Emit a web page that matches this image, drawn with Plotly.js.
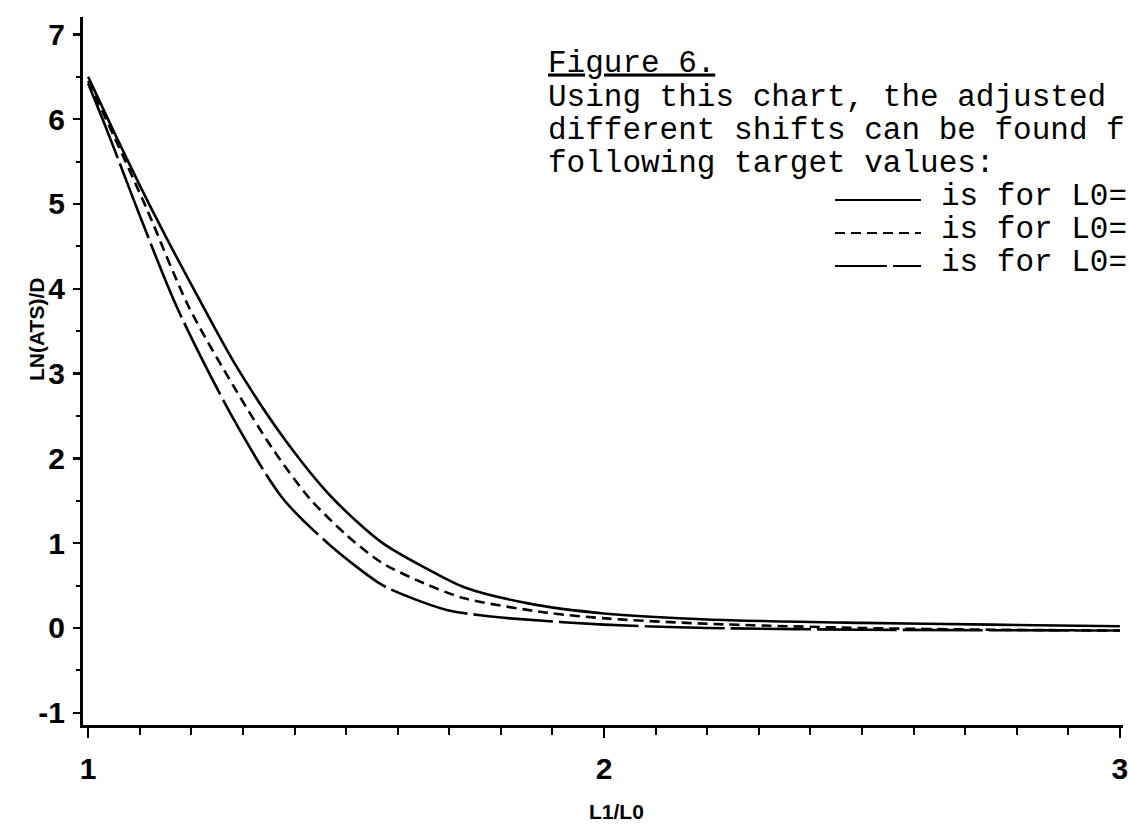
<!DOCTYPE html>
<html>
<head>
<meta charset="utf-8">
<script src="https://cdn.plot.ly/plotly-3.0.1.min.js"></script>
<style>html,body{margin:0;padding:0;background:#fff;}#chart{width:1129px;height:839px;}</style>
</head>
<body>
<div id="chart"></div>
<script>
// Data
const xSolid = [1.0, 1.05, 1.1, 1.15, 1.2, 1.283, 1.378, 1.474, 1.569, 1.65, 1.729, 1.853, 2.0, 2.2, 2.5, 2.75, 3.0];
const ySolid = [6.5, 5.85, 5.22, 4.62, 4.05, 3.13, 2.25, 1.53, 1.01, 0.72, 0.48, 0.29, 0.17, 0.1, 0.06, 0.04, 0.02];

const xDashed = [1.0, 1.05, 1.113, 1.194, 1.283, 1.359, 1.429, 1.5, 1.569, 1.65, 1.729, 1.89, 2.01, 2.2, 2.5, 2.75, 3.0];
const yDashed = [6.45, 5.8, 4.95, 3.8, 2.84, 2.10, 1.53, 1.1, 0.77, 0.53, 0.35, 0.18, 0.11, 0.05, 0.0, -0.02, -0.03];

const xLongDash = [1.0, 1.03, 1.06, 1.099, 1.173, 1.283, 1.377, 1.47, 1.569, 1.62, 1.697, 1.76, 1.825, 2.0, 2.2, 2.5, 3.0];
const yLongDash = [6.42, 5.97, 5.5, 4.88, 3.77, 2.45, 1.53, 0.97, 0.51, 0.37, 0.21, 0.15, 0.11, 0.04, 0.0, -0.02, -0.03];

const xTickVals = [1, 2, 3];
const yTickVals = [-1, 0, 1, 2, 3, 4, 5, 6, 7];

const noteLines = [
  "<u>Figure 6.</u>",
  "Using this chart, the adjusted",
  "different shifts can be found f",
  "following target values:"
];
const legendTexts = ["is for L0=", "is for L0=", "is for L0="];
const curveDashes = ["solid", "10px,6px", "80px,6px"];
const sampleDashes = ["solid", "10px,6px", "52px,6px"];

const tickFont = {family: "'Liberation Sans', Arial, sans-serif", size: 30, color: "#000", weight: "bold"};
const monoFont = {family: "'Liberation Mono', 'DejaVu Sans Mono', monospace", size: 31, color: "#000"};

const W = 1129, H = 839;
const mL = 83, mR = 6, mT = 17, mB = 114;
const pw = W - mL - mR, ph = H - mT - mB;
const px2paper = px => (px - mL) / pw;
const py2paper = py => (H - mB - py) / ph;

const traces = [
  {x: xSolid, y: ySolid, mode: "lines", line: {color: "#000", width: 2.6, shape: "spline", smoothing: 0.8, dash: curveDashes[0]}, showlegend: false, hoverinfo: "skip"},
  {x: xDashed, y: yDashed, mode: "lines", line: {color: "#000", width: 2.6, shape: "spline", smoothing: 0.8, dash: curveDashes[1]}, showlegend: false, hoverinfo: "skip"},
  {x: xLongDash, y: yLongDash, mode: "lines", line: {color: "#000", width: 2.6, shape: "spline", smoothing: 0.8, dash: curveDashes[2]}, showlegend: false, hoverinfo: "skip"}
];

const annotations = [];
const noteY = [63, 97, 130, 163];
noteLines.forEach((t, i) => {
  annotations.push({xref: "paper", yref: "paper", x: px2paper(546), y: py2paper(noteY[i]), xanchor: "left", yanchor: "middle", height: 32, text: t, showarrow: false, font: monoFont, align: "left"});
});
const legY = [196, 229, 262];
const shapes = [];
legendTexts.forEach((t, i) => {
  annotations.push({xref: "paper", yref: "paper", x: px2paper(939), y: py2paper(legY[i]), xanchor: "left", yanchor: "middle", height: 32, text: t, showarrow: false, font: monoFont});
  shapes.push({type: "line", xref: "paper", yref: "paper", x0: px2paper(835), x1: px2paper(921), y0: py2paper(legY[i] + 4), y1: py2paper(legY[i] + 4), line: {color: "#000", width: 2, dash: sampleDashes[i]}});
});
annotations.push({xref: "paper", yref: "paper", x: px2paper(616), y: py2paper(812), xanchor: "center", yanchor: "middle", text: "L1/L0", showarrow: false, font: {family: tickFont.family, size: 21, color: "#000", weight: "bold"}});
annotations.push({xref: "paper", yref: "paper", x: px2paper(36), y: py2paper(330), xanchor: "center", yanchor: "middle", text: "LN(ATS)/D", textangle: -90, showarrow: false, font: {family: tickFont.family, size: 21, color: "#000", weight: "bold"}});

const layout = {
  width: W, height: H,
  margin: {l: mL, r: mR, t: mT, b: mB, pad: 0},
  paper_bgcolor: "#fff", plot_bgcolor: "#fff",
  showlegend: false,
  xaxis: {
    range: [0.99, 3.006], tickvals: xTickVals, ticktext: xTickVals.map(String),
    showgrid: false, zeroline: false, showline: true, linecolor: "#000", linewidth: 3,
    ticks: "outside", ticklen: 10, tickwidth: 2.5, tickcolor: "#000",
    minor: {dtick: 0.1, tick0: 1, ticks: "outside", ticklen: 7, tickwidth: 2, tickcolor: "#000", showgrid: false},
    tickfont: tickFont, ticklabelstandoff: 5, ticklabeloverflow: "allow"
  },
  yaxis: {
    range: [-1.144, 7.205], tickvals: yTickVals, ticktext: yTickVals.map(String),
    showgrid: false, zeroline: false, showline: true, linecolor: "#000", linewidth: 3,
    ticks: "outside", ticklen: 7, tickwidth: 2.5, tickcolor: "#000",
    minor: {dtick: 0.5, tick0: 0, ticks: "outside", ticklen: 4, tickwidth: 2, tickcolor: "#000", showgrid: false},
    tickfont: tickFont, ticklabelstandoff: 2
  },
  annotations: annotations,
  shapes: shapes
};

Plotly.newPlot("chart", traces, layout, {displayModeBar: false, staticPlot: true});
</script>
</body>
</html>
